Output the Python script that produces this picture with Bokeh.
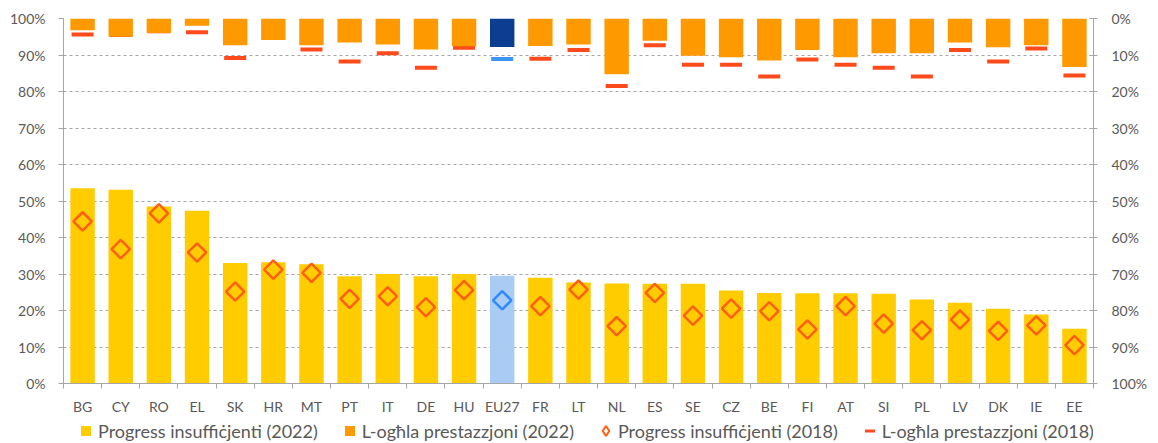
import numpy as np
from bokeh.plotting import figure
from bokeh.layouts import column
from bokeh.models import (ColumnDataSource, Range1d, LinearAxis, FixedTicker,
                          Legend, LegendItem)
from bokeh.embed import file_html
from bokeh.resources import INLINE

# ---------------- data ----------------
categories = ["BG", "CY", "RO", "EL", "SK", "HR", "MT", "PT", "IT", "DE", "HU", "EU27",
              "FR", "LT", "NL", "ES", "SE", "CZ", "BE", "FI", "AT", "SI", "PL", "LV",
              "DK", "IE", "EE"]
insufficient_2022 = [53.5, 53.1, 48.5, 47.3, 33.0, 33.2, 32.7, 29.4, 30.0, 29.4, 30.0, 29.5,
                     29.0, 27.7, 27.4, 27.3, 27.3, 25.5, 24.8, 24.7, 24.7, 24.6, 23.0, 22.1,
                     20.5, 18.9, 15.0]
insufficient_2018 = [44.4, 36.8, 46.6, 35.9, 25.2, 31.2, 30.3, 23.2, 23.9, 20.9, 25.6, 22.8,
                     21.2, 25.7, 15.7, 24.8, 18.6, 20.5, 19.8, 14.8, 21.2, 16.4, 14.6, 17.5,
                     14.4, 15.9, 10.5]
top_2022 = [3.2, 5.0, 4.0, 2.0, 7.3, 5.9, 7.3, 6.6, 7.1, 8.5, 7.6, 7.8,
            7.5, 7.1, 15.3, 6.1, 10.2, 10.6, 11.5, 8.6, 10.6, 9.5, 9.5, 6.6,
            7.9, 7.3, 13.3]
top_2018 = [4.4, 4.5, 3.5, 3.8, 10.8, 5.0, 8.5, 11.8, 9.5, 13.5, 8.0, 11.1,
            11.0, 8.6, 18.5, 7.3, 12.7, 12.7, 15.9, 11.2, 12.7, 13.5, 15.9, 8.6,
            11.8, 8.2, 15.6]
pct_ticks = list(range(0, 101, 10))
pct_labels = {t: f"{t}%" for t in pct_ticks}
legend_labels = ["Progress insuffiċjenti (2022)", "L-ogħla prestazzjoni (2022)",
                 "Progress insuffiċjenti (2018)", "L-ogħla prestazzjoni (2018)"]

# ---------------- styling ----------------
FONT = "Lato"
TXT = "#595959"
GRID = "#A6A6A6"
YELLOW, ORANGE, RED_D, RED_L = "#FFCC00", "#FF9900", "#FF5F14", "#FF4A1C"
n = len(categories)
xs = [i + 0.5 for i in range(n)]
eu = [c == "EU27" for c in categories]

src = ColumnDataSource(dict(
    x=xs, cat=categories,
    ins22=insufficient_2022, ins18=insufficient_2018,
    top22=top_2022, top18=top_2018,
    c_ins22=["#A9CBF4" if e else YELLOW for e in eu],
    c_ins18=["#2E8BFF" if e else RED_D for e in eu],
    c_top22=["#0B3E91" if e else ORANGE for e in eu],
    c_top18=["#3A95F0" if e else RED_L for e in eu],
))

W = 1150
H_MAIN = 418
H_LEG = 25

p = figure(width=W, height=H_MAIN, x_range=Range1d(0, n), y_range=Range1d(0, 100),
           output_backend="svg", toolbar_location=None,
           min_border_left=63, min_border_right=50, min_border_top=18, min_border_bottom=35)
p.extra_y_ranges = {"top": Range1d(start=100, end=0)}
p.outline_line_color = None
p.background_fill_color = "white"

# grid
p.xgrid.visible = False
p.ygrid.ticker = FixedTicker(ticks=pct_ticks)
p.ygrid.grid_line_color = GRID
p.ygrid.grid_line_dash = "3 3"
p.ygrid.grid_line_width = 1

# axes
def style_axis(ax):
    ax.axis_line_color = GRID
    ax.major_tick_line_color = GRID
    ax.minor_tick_line_color = GRID
    ax.major_label_text_font = FONT
    ax.major_label_text_font_size = "14px"
    ax.major_label_text_color = TXT

ly = p.yaxis[0]
ly.ticker = FixedTicker(ticks=pct_ticks)
ly.major_label_overrides = pct_labels
ly.major_tick_out = 5
ly.major_tick_in = 0
ly.major_label_standoff = 13
style_axis(ly)

ry = LinearAxis(y_range_name="top", ticker=FixedTicker(ticks=pct_ticks),
                major_label_overrides=pct_labels)
ry.major_tick_out = 4
ry.major_tick_in = 4
ry.major_label_standoff = 14
style_axis(ry)
p.add_layout(ry, "right")

bx = p.xaxis[0]
bx.ticker = FixedTicker(ticks=xs, minor_ticks=list(range(n + 1)))
bx.major_label_overrides = {x: c for x, c in zip(xs, categories)}
bx.major_tick_out = 0
bx.major_tick_in = 0
bx.minor_tick_out = 5
bx.minor_tick_in = 0
bx.major_label_standoff = 9
style_axis(bx)

# ---------------- glyphs ----------------
BAR_W = 0.64
p.vbar(x="x", top="ins22", bottom=0, width=BAR_W, fill_color="c_ins22",
       line_color=None, source=src)
p.scatter(x="x", y="top18", marker="dash", size=22, line_color="c_top18",
          line_width=4, y_range_name="top", source=src)
p.vbar(x="x", top=0, bottom="top22", width=BAR_W, fill_color="c_top22",
       line_color=None, y_range_name="top", source=src)
p.scatter(x="x", y="ins18", marker="square", angle=np.pi / 4, size=13,
          fill_color=None, line_color="c_ins18", line_width=2.5, source=src)

# ---------------- legend (separate strip below, frame aligned with chart) ----------------
lf = figure(width=W, height=H_LEG, x_range=Range1d(0, 1), y_range=Range1d(0, 1),
            output_backend="svg", toolbar_location=None, min_border=0)
lf.axis.visible = False
lf.grid.visible = False
lf.outline_line_color = None

r1 = lf.scatter(x="x", y="ins22", marker="square", size=10, fill_color=YELLOW,
                line_color=None, source=src, visible=False)
r2 = lf.scatter(x="x", y="top22", marker="square", size=10, fill_color=ORANGE,
                line_color=None, source=src, visible=False)
r3 = lf.scatter(x="x", y="ins18", marker="diamond", size=10, fill_color=None,
                line_color=RED_D, line_width=2, source=src, visible=False)
r4 = lf.scatter(x="x", y="top18", marker="dash", size=10, line_color=RED_L,
                line_width=3, source=src, visible=False)

legend = Legend(items=[
    LegendItem(label=legend_labels[0], renderers=[r1], index=0),
    LegendItem(label=legend_labels[1], renderers=[r2], index=0),
    LegendItem(label=legend_labels[2], renderers=[r3], index=0),
    LegendItem(label=legend_labels[3], renderers=[r4], index=0),
], orientation="horizontal", location=(10, 0))
legend.glyph_width = 25
legend.glyph_height = 25
legend.label_standoff = 0
legend.spacing = 19
legend.padding = 0
legend.margin = 0
legend.border_line_color = None
legend.background_fill_alpha = 0
legend.inactive_fill_alpha = 0
legend.label_text_font = FONT
legend.label_text_font_size = "18px"
legend.label_text_color = TXT
lf.add_layout(legend, "center")

layout = column(p, lf, spacing=0)
open("out.html", "w").write(file_html(layout, INLINE))
